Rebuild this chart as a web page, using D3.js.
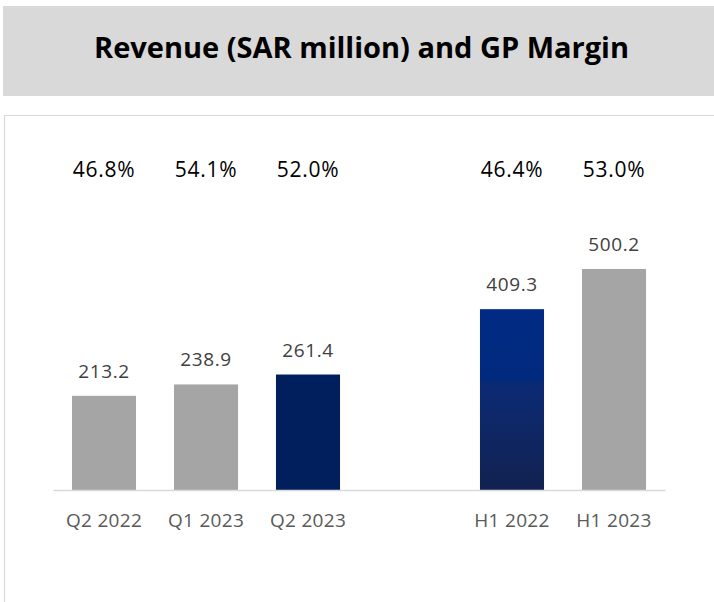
<!DOCTYPE html>
<html>
<head>
<meta charset="utf-8">
<script src="https://cdn.jsdelivr.net/npm/d3@7"></script>
<style>
  body { margin: 0; background: #fff; }
  svg { display: block; font-family: "Open Sans", sans-serif; }
</style>
</head>
<body>
<div id="chart"></div>
<script>
// Revenue (SAR million) and GP margin, quarterly and half-year
const categories = ["Q2 2022", "Q1 2023", "Q2 2023", "H1 2022", "H1 2023"];
const revenue = [213.2, 238.9, 261.4, 409.3, 500.2];
const gpMargin = [46.8, 54.1, 52.0, 46.4, 53.0];
// slot order on the axis, with an empty slot between quarters and halves
const slots = ["Q2 2022", "Q1 2023", "Q2 2023", "gap", "H1 2022", "H1 2023"];

const width = 714, height = 602;

const data = categories.map((c, i) => ({ name: c, value: revenue[i], margin: gpMargin[i] }));

// bar colours
const fills = {
  "Q2 2022": "#a5a5a5",
  "Q1 2023": "#a5a5a5",
  "Q2 2023": "#001f5c",
  "H1 2022": "url(#navyGrad)",
  "H1 2023": "#a5a5a5"
};

const svg = d3.select("#chart")
  .append("svg")
  .attr("width", width)
  .attr("height", height);

// gradient for H1 2022 bar
const grad = svg.append("defs").append("linearGradient")
  .attr("id", "navyGrad")
  .attr("x1", 0).attr("y1", 0).attr("x2", 0).attr("y2", 1);
grad.append("stop").attr("offset", "0%").attr("stop-color", "#002a84");
grad.append("stop").attr("offset", "38%").attr("stop-color", "#01297e");
grad.append("stop").attr("offset", "42%").attr("stop-color", "#0c2a75");
grad.append("stop").attr("offset", "100%").attr("stop-color", "#112250");

// title band
svg.append("rect")
  .attr("x", 3).attr("y", 6)
  .attr("width", width - 3).attr("height", 90)
  .attr("fill", "#d9d9d9");

svg.append("text")
  .attr("x", 361.5)
  .attr("y", 58)
  .attr("text-anchor", "middle")
  .attr("textLength", 535)
  .attr("lengthAdjust", "spacingAndGlyphs")
  .style("font-size", "29px")
  .style("font-weight", "bold")
  .style("fill", "#000")
  .text("Revenue (SAR million) and GP Margin");

// chart frame (top and left edges visible)
svg.append("path")
  .attr("d", `M4.5,${height} V115.5 H${width}`)
  .attr("fill", "none")
  .attr("stroke", "#d9d9d9")
  .attr("stroke-width", 1.2);

// scales
const x = d3.scaleBand()
  .domain(slots)
  .range([53, 665])
  .paddingInner(0.372)
  .paddingOuter(0.186);

const y = d3.scaleLinear()
  .domain([0, 600])
  .range([490, 490 - 600 * 0.4418]);

// bars
svg.selectAll("rect.bar")
  .data(data)
  .enter()
  .append("rect")
  .attr("class", "bar")
  .attr("x", d => x(d.name))
  .attr("y", d => y(d.value))
  .attr("width", x.bandwidth())
  .attr("height", d => y(0) - y(d.value))
  .attr("fill", d => fills[d.name]);

// value labels
svg.selectAll("text.val")
  .data(data)
  .enter()
  .append("text")
  .attr("class", "val")
  .attr("x", d => x(d.name) + x.bandwidth() / 2)
  .attr("y", d => y(d.value) - 18)
  .attr("text-anchor", "middle")
  .style("font-size", "19px")
  .style("letter-spacing", "0.6px")
  .style("fill", "#404040")
  .text(d => d.value.toFixed(1));

// GP margin labels
svg.selectAll("text.margin")
  .data(data)
  .enter()
  .append("text")
  .attr("class", "margin")
  .attr("x", d => x(d.name) + x.bandwidth() / 2)
  .attr("y", 177)
  .attr("text-anchor", "middle")
  .style("font-size", "21px")
  .style("letter-spacing", "0.7px")
  .style("fill", "#000")
  .text(d => d.margin.toFixed(1) + "%");

// x axis
const xAxis = d3.axisBottom(x)
  .tickValues(categories)
  .tickSize(0)
  .tickSizeOuter(0)
  .tickPadding(24);

const gx = svg.append("g")
  .attr("transform", "translate(0,490)")
  .call(xAxis);

gx.select(".domain")
  .attr("stroke", "#d9d9d9")
  .attr("stroke-width", 1.5);

gx.selectAll("text")
  .style("font-family", "'Open Sans', sans-serif")
  .style("font-size", "19px")
  .style("letter-spacing", "0.3px")
  .style("fill", "#595959");
</script>
</body>
</html>
